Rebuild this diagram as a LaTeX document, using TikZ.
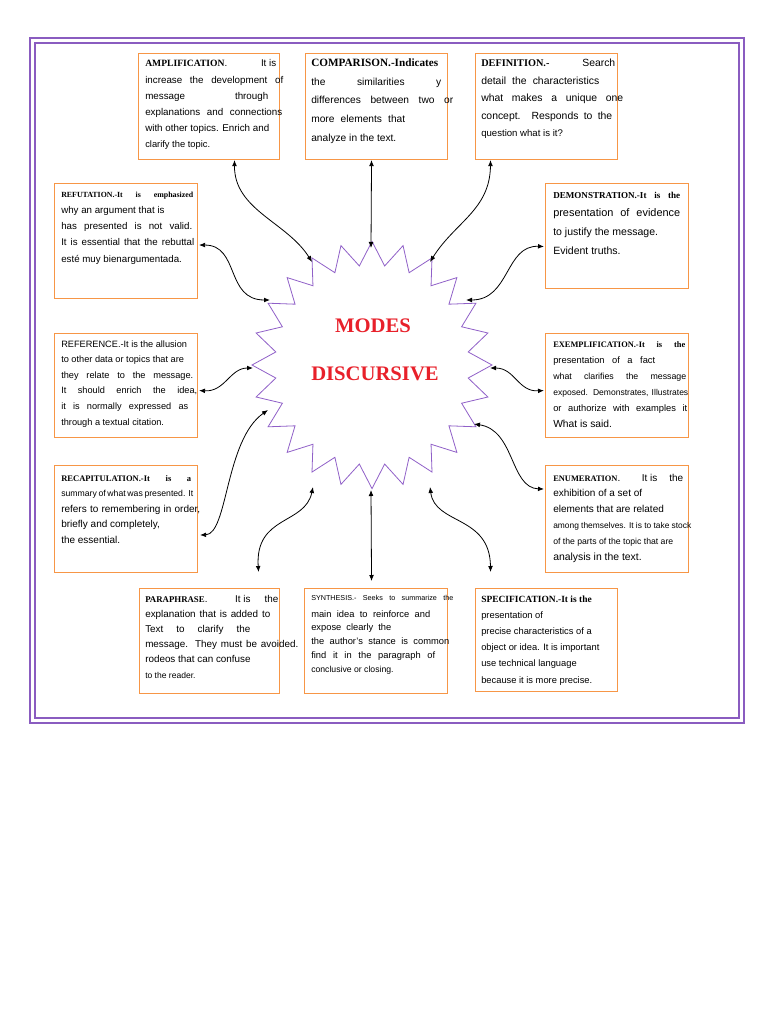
\documentclass[tikz,border=0pt]{standalone}
\usepackage{fontspec}
\setmainfont{Liberation Sans}
\newfontfamily\tnr{Liberation Serif}
\usetikzlibrary{arrows.meta,calc}
\newdimen\px \px=0.75pt
\newcommand\fs[1]{\fontsize{#1}{#1}\selectfont}
\newcommand\hd[2]{{\tnr\bfseries\fs{#1}#2}}
\newcommand\J[2]{\hbox to #1\px{#2}}
\newcommand\R[1]{\hbox{#1}}
\newcommand\lines[2]{\vtop{\baselineskip=#1\px\lineskiplimit=-100pt\lineskip=0pt #2}}
\definecolor{boxc}{HTML}{F79646}
\definecolor{framec}{HTML}{8A5CC0}
\definecolor{starc}{HTML}{9060C8}
\definecolor{titlec}{HTML}{E8202A}
\begin{document}
\begin{tikzpicture}[x=0.75pt,y=-0.75pt,
  box/.style={draw=boxc, line width=0.8pt, inner sep=0pt, anchor=north west},
  txt/.style={inner sep=0pt, anchor=base west},
  conn/.style={{Latex[length=4.5pt,width=3.6pt]}-{Latex[length=4.5pt,width=3.6pt]}, line width=0.6pt, black},
  title/.style={text=titlec, font=\tnr\bfseries\fs{15.5}, inner sep=0pt, anchor=base}]
\useasboundingbox (0,0) rectangle (768,1024);
\fill[white] (0,0) rectangle (768,1024);
% frame
\draw[framec, line width=1.6pt] (30,38) rectangle (744,723);
\draw[framec, line width=0.8pt] (35,43) rectangle (739,718);
% star
\coordinate (c) at (372,365);
\draw[starc, line width=0.6pt] (492,365)
  \foreach \i in {1,...,47}{ -- ({372+(108.5+11.5*cos(\i*180))*cos(\i*7.5)},{365+1.03*(108.5+11.5*cos(\i*180))*sin(\i*7.5)}) } -- cycle;
\node[title] (t1) at (373,332) {MODES};
\node[title] (t2) at (375,380) {DISCURSIVE};
% boxes
\newcommand\mkbox[5]{\node[box, minimum width=#4*0.75pt, minimum height=#5*0.75pt] (#1) at (#2,#3) {};}
\mkbox{amp}{138}{53}{141}{106}
\mkbox{comp}{305}{53}{142}{106}
\mkbox{defi}{475}{53}{142}{106}
\mkbox{refu}{54}{183}{143}{115}
\mkbox{demo}{545}{183}{143}{105}
\mkbox{refe}{54}{333}{143}{104}
\mkbox{exem}{545}{333}{143}{104}
\mkbox{reca}{54}{465}{143}{107}
\mkbox{enum}{545}{465}{143}{107}
\mkbox{para}{139}{588}{140}{105}
\mkbox{synt}{304}{588}{143}{105}
\mkbox{spec}{475}{588}{142}{103}
% texts
\node[txt, font=\fs{7.35}] (ampT) at (145,67) {\lines{16.2}{%
\J{131}{\hd{7.2}{AMPLIFICATION}.\hfill It is}
\J{138}{increase the development of}
\J{123}{message\hfill through}
\J{137}{explanations and connections}
\R{with other topics. Enrich and}
\R{\fs{7}clarify the topic.}}};
\node[txt, font=\fs{7.65}] (compT) at (311,67) {\lines{18.5}{%
\R{\hd{8.4}{COMPARISON.-Indicates}}
\J{130}{the similarities y}
\J{142}{differences between two or}
\J{94}{more elements that}
\R{analyze in the text.}}};
\node[txt, font=\fs{7.8}] (defiT) at (481,67) {\lines{17.5}{%
\J{134}{\hd{7.7}{DEFINITION.-}\hfill Search}
\J{118}{detail the characteristics}
\J{142}{what makes a unique one}
\J{131}{concept. Responds to the}
\R{\fs{7.2}question what is it?}}};
\node[txt, font=\fs{7.3}] (refuT) at (61,197) {\lines{16.3}{%
\J{132}{\hd{5.9}{REFUTATION.-It is emphasized}}
\R{why an argument that is}
\J{131}{has presented is not valid.}
\J{133}{It is essential that the rebuttal}
\R{esté muy bienargumentada.}}};
\node[txt, font=\fs{7.9}] (demoT) at (553,198) {\lines{18.7}{%
\J{127}{\hd{6.8}{DEMONSTRATION.-It is the}}
\J{127}{\fs{8.2}presentation of evidence}
\R{to justify the message.}
\R{Evident truths.}}};
\node[txt, font=\fs{6.9}] (refeT) at (61,347) {\lines{15.6}{%
\R{REFERENCE.-It is the allusion}
\R{to other data or topics that are}
\J{132}{they relate to the message.}
\J{136}{It should enrich the idea,}
\J{127}{it is normally expressed as}
\R{through a textual citation.}}};
\node[txt, font=\fs{7.0}] (exemT) at (553,347) {\lines{16}{%
\J{132}{\hd{6.3}{EXEMPLIFICATION.-It is the}}
\J{102}{presentation of a fact}
\J{133}{\fs{6.6}what clarifies the message}
\J{135}{\fs{6.4}exposed. Demonstrates, Illustrates}
\J{134}{or authorize with examples it}
\R{\fs{7.7}What is said.}}};
\node[txt, font=\fs{7.5}] (recaT) at (61,481) {\lines{15.5}{%
\J{130}{\hd{6.4}{RECAPITULATION.-It is a}}
\J{132}{\fs{6.5}summary of what was presented. It}
\J{139}{refers to remembering in order,}
\R{briefly and completely,}
\R{the essential.}}};
\node[txt, font=\fs{7.5}] (enumT) at (553,481) {\lines{15.8}{%
\J{130}{\hd{6.3}{ENUMERATION}.\hfill It is\hspace{12\px}the}
\R{exhibition of a set of}
\R{elements that are related}
\J{138}{\fs{6.3}among themselves. It is to take stock}
\R{\fs{6.5}of the parts of the topic that are}
\R{\fs{7.8}analysis in the text.}}};
\node[txt, font=\fs{7.4}] (paraT) at (145,602) {\lines{15.2}{%
\J{133}{\hd{6.6}{PARAPHRASE}.\hfill It is\hspace{14\px}the}
\J{125}{explanation that is added to}
\J{105}{Text to clarify the}
\J{153}{message. They must be avoided.}
\R{rodeos that can confuse}
\R{\fs{6.4}to the reader.}}};
\node[txt, font=\fs{7.0}] (syntT) at (311,600) {\lines{13.8}{%
\J{142}{\fs{5.4}SYNTHESIS.- Seeks to summarize the}\vskip3.2\px
\J{119}{main idea to reinforce and}
\J{80}{expose clearly the}
\J{138}{the author's stance is common}
\J{124}{find it in the paragraph of}
\R{\fs{6.5}conclusive or closing.}}};
\node[txt, font=\fs{7.0}] (specT) at (481,602) {\lines{16.2}{%
\R{\hd{7.1}{SPECIFICATION.-It is the}}
\R{presentation of}
\R{precise characteristics of a}
\R{object or idea. It is important}
\R{use technical language}
\R{because it is more precise.}}};
% connector ends on boxes
\coordinate (e1) at ($(amp.south)+(25.5,0)$);
\coordinate (e2) at ($(comp.south)+(-5,0)$);
\coordinate (e3) at ($(defi.south)+(-56,0)$);
\coordinate (e4) at ($(refu.east)+(1,4)$);
\coordinate (e5) at ($(demo.west)+(-1,10.5)$);
\coordinate (e6) at ($(refe.east)+(1,5)$);
\coordinate (e7) at ($(exem.west)+(-1,5)$);
\coordinate (e8) at ($(reca.east)+(2,16)$);
\coordinate (e9) at ($(enum.west)+(-1,-30)$);
\coordinate (e10) at ($(para.north)+(49,-16)$);
\coordinate (e11) at ($(synt.north)+(-4.5,-7)$);
\coordinate (e12) at ($(spec.north)+(-56,-16)$);
% connector ends on the star
\coordinate (s1) at (312,262);
\coordinate (s2) at (371,248);
\coordinate (s3) at (430,262);
\coordinate (s4) at (270,300);
\coordinate (s5) at (466,300);
\coordinate (s6) at (253,368);
\coordinate (s7) at (490,368);
\coordinate (s8) at (268,410);
\coordinate (s9) at (474,424);
\coordinate (s10) at (313,487);
\coordinate (s11) at (371,490);
\coordinate (s12) at (430,487);
% connectors
\draw[conn] (e1) .. controls (234,210) and (287,222) .. (s1);
\draw[conn] (e2) -- (s2);
\draw[conn] (e3) .. controls (490,210) and (455,222) .. (s3);
\draw[conn] (e4) .. controls (240,245) and (225,300) .. (s4);
\draw[conn] (e5) .. controls (505,245) and (510,300) .. (s5);
\draw[conn] (e6) .. controls (225,392) and (230,368) .. (s6);
\draw[conn] (e7) .. controls (518,392) and (515,368) .. (s7);
\draw[conn] (e8) .. controls (228,534) and (225,440) .. (s8);
\draw[conn] (e9) .. controls (510,488) and (515,430) .. (s9);
\draw[conn] (e10) .. controls (255,515) and (305,525) .. (s10);
\draw[conn] (e11) -- (s11);
\draw[conn] (e12) .. controls (490,515) and (435,525) .. (s12);
\end{tikzpicture}
\end{document}
